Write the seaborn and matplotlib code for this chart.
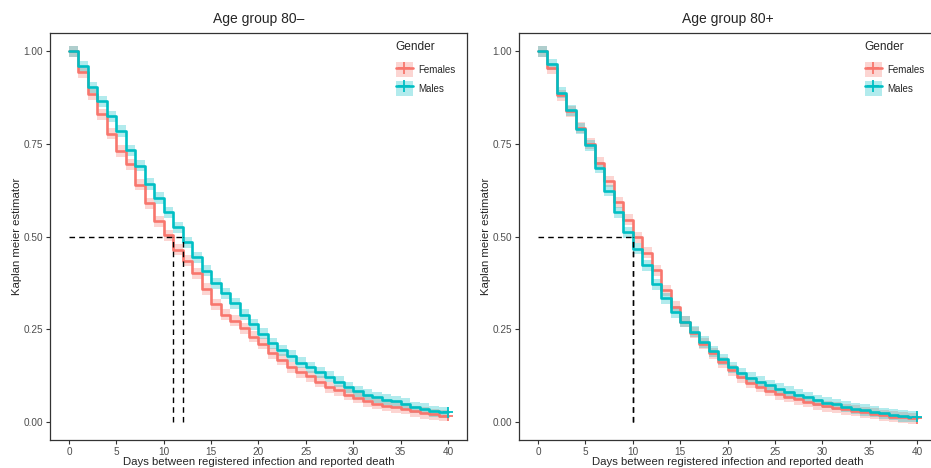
import numpy as np
import pandas as pd
import seaborn as sns
import matplotlib.pyplot as plt
from matplotlib.patches import Patch
from matplotlib.lines import Line2D

# Kaplan-Meier estimates per day (value holds from day i to day i+1)
days = list(range(0, 41))

# Age group 80-
f_under80 = [1.0, 0.944, 0.884, 0.830, 0.778, 0.731, 0.695, 0.640, 0.590, 0.541,
             0.503, 0.464, 0.435, 0.401, 0.358, 0.317, 0.288, 0.272, 0.252, 0.229,
             0.210, 0.185, 0.167, 0.147, 0.133, 0.122, 0.107, 0.093, 0.085, 0.073,
             0.064, 0.055, 0.048, 0.043, 0.039, 0.034, 0.028, 0.023, 0.019, 0.016, 0.016]
m_under80 = [1.0, 0.960, 0.903, 0.866, 0.825, 0.785, 0.733, 0.691, 0.642, 0.604,
             0.565, 0.525, 0.484, 0.444, 0.407, 0.374, 0.346, 0.319, 0.288, 0.263,
             0.237, 0.212, 0.192, 0.177, 0.159, 0.147, 0.133, 0.121, 0.107, 0.093,
             0.082, 0.073, 0.066, 0.059, 0.055, 0.048, 0.039, 0.034, 0.028, 0.025, 0.025]

# Age group 80+
f_over80 = [1.0, 0.955, 0.882, 0.839, 0.794, 0.751, 0.700, 0.649, 0.592, 0.545,
            0.498, 0.456, 0.409, 0.355, 0.310, 0.270, 0.240, 0.210, 0.185, 0.160,
            0.138, 0.120, 0.105, 0.094, 0.083, 0.074, 0.067, 0.060, 0.053, 0.047,
            0.041, 0.037, 0.033, 0.029, 0.025, 0.021, 0.017, 0.013, 0.011, 0.009, 0.009]
m_over80 = [1.0, 0.966, 0.888, 0.841, 0.791, 0.747, 0.686, 0.624, 0.565, 0.511,
            0.467, 0.422, 0.371, 0.333, 0.296, 0.270, 0.243, 0.215, 0.190, 0.168,
            0.147, 0.130, 0.118, 0.107, 0.098, 0.089, 0.081, 0.073, 0.065, 0.058,
            0.051, 0.046, 0.040, 0.035, 0.031, 0.026, 0.022, 0.018, 0.015, 0.013, 0.013]

ci_half = 0.015  # approx. half width of the confidence band

medians_under80 = [11, 12]
medians_over80 = [10, 10]

genders = ['Females', 'Males']
palette = {'Females': '#F8766D', 'Males': '#00BFC4'}

panels = [
    ('Age group 80\u2013', {'Females': f_under80, 'Males': m_under80}, medians_under80),
    ('Age group 80+', {'Females': f_over80, 'Males': m_over80}, medians_over80),
]

sns.set_style('white')
plt.rcParams['font.family'] = ['Liberation Sans', 'DejaVu Sans']

fig = plt.figure(figsize=(9.31, 4.68), dpi=100)
ax_left = fig.add_axes([0.0537, 0.0598, 0.4479, 0.8697])
ax_right = fig.add_axes([0.5575, 0.0598, 0.4479, 0.8697])

for ax, (title, curves, medians) in zip([ax_left, ax_right], panels):
    df = pd.concat([pd.DataFrame({'day': days, 'surv': curves[g], 'Gender': g}) for g in genders])

    for g in genders:
        s = np.array(curves[g])
        ax.fill_between(days, s - ci_half, s + ci_half, step='post',
                        color=palette[g], alpha=0.3, lw=0)

    sns.lineplot(data=df, x='day', y='surv', hue='Gender', palette=palette,
                 drawstyle='steps-post', lw=1.9, ax=ax, legend=False)

    ends = df[df['day'] == days[-1]]
    sns.scatterplot(data=ends, x='day', y='surv', hue='Gender', palette=palette,
                    marker='+', s=60, linewidth=1.3, ax=ax, legend=False, zorder=5)

    # median lines
    ax.plot([0, max(medians)], [0.5, 0.5], color='black', ls=(0, (4, 3)), lw=1)
    for m in medians:
        ax.plot([m, m], [0, 0.5], color='black', ls=(0, (4, 3)), lw=1)

    ax.set_xlim(-2, 42)
    ax.set_ylim(-0.05, 1.05)
    ax.set_xticks([0, 5, 10, 15, 20, 25, 30, 35, 40])
    ax.set_yticks([0, 0.25, 0.5, 0.75, 1.0])
    ax.set_yticklabels(['0.00', '0.25', '0.50', '0.75', '1.00'])
    ax.tick_params(axis='both', labelsize=7.2, colors='#333333',
                   length=3, width=0.8, direction='out', bottom=True, left=True, pad=2)
    ax.tick_params(axis='both', labelcolor='#4D4D4D')
    for sp in ax.spines.values():
        sp.set_color('#333333')
        sp.set_linewidth(0.9)
    ax.set_title(title, fontsize=10, pad=7)
    ax.set_xlabel('Days between registered infection and reported death', fontsize=8.2, labelpad=0)
    ax.set_ylabel('Kaplan meier estimator', fontsize=8.2, labelpad=1)

    handles = [(Patch(facecolor=palette[g], alpha=0.3, lw=0),
                Line2D([], [], color=palette[g], lw=1.9, marker='+', markersize=9, mew=1.3))
               for g in genders]
    leg = ax.legend(handles, genders, title='Gender', loc='upper left',
                    bbox_to_anchor=(0.81, 1.0), frameon=False, fontsize=7,
                    title_fontsize=8.6, handlelength=1.75, handleheight=1.9,
                    handletextpad=0.6, labelspacing=0.45, alignment='left',
                    borderpad=0.3)
    leg._legend_box.sep = 7

fig.savefig('out.png', dpi=100)
